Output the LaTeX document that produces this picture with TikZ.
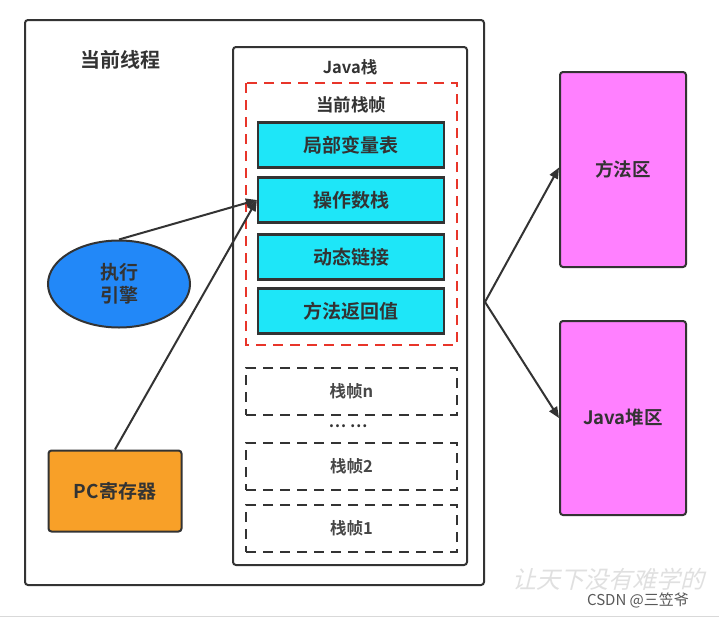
\documentclass[tikz,border=0pt]{standalone}
\usepackage{fontspec}
\setmainfont{Noto Sans CJK SC}
\newfontfamily\cjkb{Noto Sans CJK SC Bold}
\newfontfamily\cjkslant[FakeSlant=0.25]{Noto Sans CJK SC}
\usetikzlibrary{shapes.geometric,arrows.meta}
\definecolor{txt}{HTML}{333333}
\definecolor{edge}{HTML}{333333}
\definecolor{cyanfill}{HTML}{1EE6F8}
\definecolor{bluefill}{HTML}{2288F8}
\definecolor{orangefill}{HTML}{F8A028}
\definecolor{magfill}{HTML}{FF80FF}
\definecolor{reddash}{HTML}{E8352A}
\tikzset{
  lbl/.style={text=txt,font=\cjkb\fontsize{19}{21}\selectfont,inner sep=0pt},
  frame/.style={draw=edge,line width=2pt,rounded corners=3pt},
  cell/.style={draw=edge,line width=2.2pt,fill=cyanfill,lbl},
  ghost/.style={draw=edge,line width=2.6pt,dash pattern=on 10pt off 7pt,lbl,text=txt!90,font=\cjkb\fontsize{16.5}{18}\selectfont},
  memarea/.style={draw=edge,line width=2pt,fill=magfill,rounded corners=3pt,lbl,font=\cjkb\fontsize{18.5}{20}\selectfont},
  conn/.style={draw=edge,line width=2pt,-{Triangle[length=11pt,width=9pt]}},
}
\begin{document}
\begin{tikzpicture}[x=1pt,y=-1pt]
\useasboundingbox[fill=white] (0,0) rectangle (719,621);
\draw[black!15,line width=0.8pt] (0,616) -- (719,616);
% outer thread
\draw[frame] (25,20) rectangle (484,585);
\coordinate (fork) at (485,302);
\node[lbl,font=\cjkb\fontsize{20}{22}\selectfont] (thread) at (120,60) {当前线程};
% Java stack
\draw[frame] (233,47) rectangle (467,565);
\node[lbl,font=\cjkb\fontsize{16.5}{18}\selectfont] (jstack) at (350,67) {Java栈};
\draw[reddash,line width=2.6pt,dash pattern=on 10pt off 7pt] (246,83) rectangle (457,345);
\node[lbl,font=\cjkb\fontsize{17.5}{19}\selectfont] (cur) at (351,105) {当前栈帧};
\node[cell,minimum width=186pt,minimum height=45pt] (lv) at (351,145) {局部变量表};
\node[cell,minimum width=186pt,minimum height=45pt] (ops) at (351,200) {操作数栈};
\node[cell,minimum width=186pt,minimum height=45pt] (dl) at (351,257) {动态链接};
\node[cell,minimum width=186pt,minimum height=45pt] (ret) at (351,311) {方法返回值};
\node[ghost,minimum width=211pt,minimum height=47pt] (fn) at (351.5,391.5) {栈帧n};
\node[lbl,font=\cjkb\fontsize{16}{18}\selectfont] (dots) at (348,426) {… …};
\node[ghost,minimum width=211pt,minimum height=47pt] (f2) at (351.5,466.5) {栈帧2};
\node[ghost,minimum width=211pt,minimum height=47pt] (f1) at (351.5,528.5) {栈帧1};
% engine and PC
\node[ellipse,draw=edge,line width=2pt,fill=bluefill,minimum width=142pt,minimum height=87pt,lbl,align=center,font=\cjkb\fontsize{19}{23}\selectfont] (eng) at (119,284) {执行\\引擎};
\node[draw=edge,line width=2pt,fill=orangefill,rounded corners=3pt,minimum width=133pt,minimum height=81pt,lbl] (pc) at (115,491) {PC寄存器};
% memory areas
\node[memarea,minimum width=126pt,minimum height=195pt] (ma) at (623,169.5) {方法区};
\node[memarea,minimum width=126pt,minimum height=194pt] (heap) at (623,418) {Java堆区};
% connectors
\coordinate (opsin) at (ops.west);
\draw[conn] (eng.north) -- (opsin);
\draw[conn] (pc.north) -- (opsin);
\draw[conn] (fork) -- ([yshift=2pt]ma.west);
\draw[conn] (fork) -- (heap.west);
% watermark
\node[text=black!12,font=\cjkslant\fontsize{24}{26}\selectfont,inner sep=0pt] (wm) at (608,579) {让天下没有难学的};
\node[text=black!65,font=\fontsize{15}{17}\selectfont,inner sep=0pt] (csdn) at (638,600) {CSDN @三笠爷};
\end{tikzpicture}
\end{document}
